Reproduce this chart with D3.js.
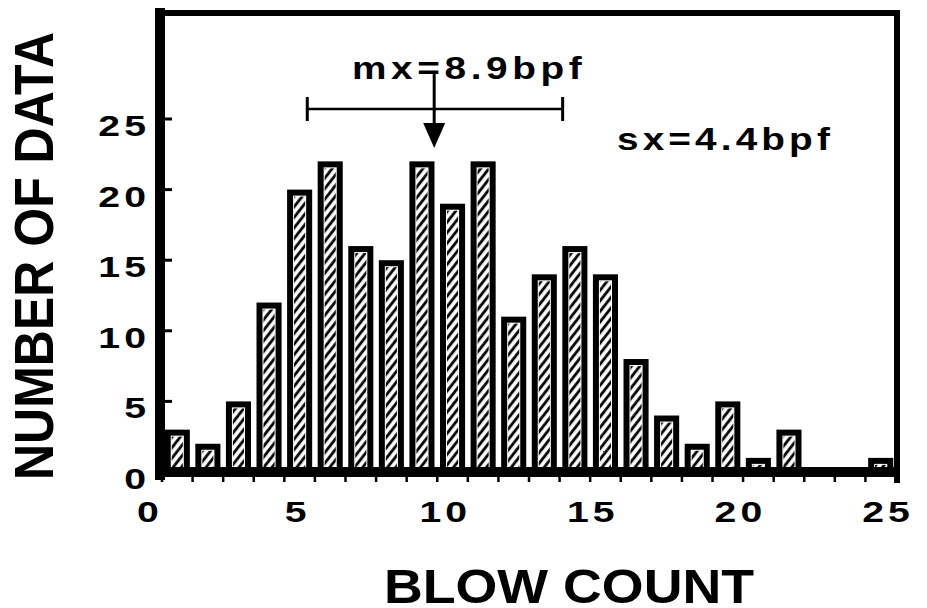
<!DOCTYPE html>
<html>
<head>
<meta charset="utf-8">
<script src="https://cdn.jsdelivr.net/npm/d3@7"></script>
<style>
  html, body { margin: 0; padding: 0; background: #fff; }
  svg { display: block; }
  text { font-family: "Liberation Sans", Arial, Helvetica, sans-serif; font-weight: bold; fill: #000; }
</style>
</head>
<body>
<svg id="chart" width="927" height="608"></svg>
<script>
// ---- data ----
const bins = ["1","2","3","4","5","6","7","8","9","10","11","12","13","14","15","16","17","18","19","20","21","22","23","24"];
const counts = [3, 2, 5, 12, 20, 22, 16, 15, 22, 19, 22, 11, 14, 16, 14, 8, 4, 2, 5, 1, 3, 0, 0, 1];
const xTickLabels = [0, 5, 10, 15, 20, 25];
const yTickLabels = [0, 5, 10, 15, 20, 25];
const yTickMarks = [5, 10, 15, 20, 25];
const binEdges = [0,1,2,3,4,5,6,7,8,9,10,11,12,13,14,15,16,17,18,19,20,21,22,23,24];
const meanValue = 8.9;
const spreadRange = [4.75, 13.1];
const meanLabel = "mx=8.9bpf";
const sdLabel = "sx=4.4bpf";
const xTitle = "BLOW COUNT";
const yTitle = "NUMBER OF DATA";

// ---- layout ----
const svg = d3.select("#chart");
const plotLeft = 162, plotRight = 896, baseY = 472, topY = 119;

const x = d3.scaleBand().domain(bins).range([plotLeft, plotRight]).paddingInner(0.18).paddingOuter(0.09);
const xe = d3.scaleLinear().domain([0, 24]).range([plotLeft, plotRight]);      // bin edges
const xl = d3.scaleLinear().domain([0, 25]).range([150, 888]);                 // tick label positions
const y = d3.scaleLinear().domain([0, 25]).range([baseY, topY]);

// hatch pattern
const defs = svg.append("defs");
const pat = defs.append("pattern")
  .attr("id", "hatch").attr("patternUnits", "userSpaceOnUse")
  .attr("width", 6.5).attr("height", 6.5)
  .attr("patternTransform", "rotate(38)");
pat.append("rect").attr("width", 6.5).attr("height", 6.5).attr("fill", "#fff");
pat.append("line").attr("x1", 1.6).attr("y1", 0).attr("x2", 1.6).attr("y2", 6.5)
  .attr("stroke", "#000").attr("stroke-width", 2.8);

// bars
const data = bins.map((b, i) => ({ bin: b, v: counts[i] })).filter(d => d.v > 0);
const bw = x.bandwidth();
const bar = svg.append("g").selectAll("g").data(data).join("g");
bar.append("rect")
  .attr("x", d => x(d.bin)).attr("y", d => y(d.v))
  .attr("width", bw).attr("height", d => y(0) - y(d.v))
  .attr("fill", "#000");
bar.append("rect")
  .attr("x", d => x(d.bin) + 6).attr("y", d => y(d.v) + 6)
  .attr("width", bw - 12).attr("height", d => Math.max(0, y(0) - y(d.v) - 6))
  .attr("fill", "#fff");
bar.append("rect")
  .attr("x", d => x(d.bin) + 7).attr("y", d => y(d.v) + 7)
  .attr("width", bw - 14).attr("height", d => Math.max(0, y(0) - y(d.v) - 7))
  .attr("fill", "url(#hatch)");

// frame
const frame = svg.append("g").attr("stroke", "#000").attr("fill", "none");
frame.append("line").attr("x1", 155).attr("x2", 900).attr("y1", 13).attr("y2", 13).attr("stroke-width", 6);
frame.append("line").attr("x1", 897).attr("x2", 897).attr("y1", 11).attr("y2", 483).attr("stroke-width", 6);
frame.append("line").attr("x1", 155).attr("x2", 900).attr("y1", baseY).attr("y2", baseY).attr("stroke-width", 10);
frame.append("line").attr("x1", 160).attr("x2", 160).attr("y1", 8).attr("y2", 480).attr("stroke-width", 10);

// y tick marks (inside)
frame.selectAll(".yt").data(yTickMarks).join("line")
  .attr("x1", 164).attr("x2", 172).attr("y1", d => y(d)).attr("y2", d => y(d)).attr("stroke-width", 3);
// x tick marks (below, at bin edges)
frame.selectAll(".xt").data(binEdges).join("line")
  .attr("x1", d => xe(d)).attr("x2", d => xe(d)).attr("y1", 476).attr("y2", 482).attr("stroke-width", 2.5);

// tick labels
svg.append("g").selectAll("text").data(xTickLabels).join("text")
  .attr("transform", d => `translate(${xl(d)},522) scale(1.35,1)`)
  .attr("text-anchor", "middle").attr("font-size", 29).attr("letter-spacing", 3)
  .text(d => d);
svg.append("g").selectAll("text").data(yTickLabels).join("text")
  .attr("transform", d => `translate(150,${y(d) + 17}) scale(1.35,1)`)
  .attr("text-anchor", "end").attr("font-size", 29).attr("letter-spacing", 3)
  .text(d => d);

// axis titles
svg.append("text")
  .attr("transform", "translate(569,603) scale(1.12,1)")
  .attr("text-anchor", "middle").attr("font-size", 48)
  .text(xTitle);
svg.append("text")
  .attr("transform", "translate(53,256) rotate(-90) scale(1,1.12)")
  .attr("text-anchor", "middle").attr("font-size", 50)
  .text(yTitle);

// annotations
svg.append("text")
  .attr("transform", "translate(352,79) scale(1.25,1)")
  .attr("font-size", 31).attr("letter-spacing", 3.7)
  .text(meanLabel);
svg.append("text")
  .attr("transform", "translate(617,150) scale(1.25,1)")
  .attr("font-size", 31).attr("letter-spacing", 3.3)
  .text(sdLabel);

const ann = svg.append("g").attr("stroke", "#000").attr("fill", "none");
ann.append("line").attr("x1", xe(spreadRange[0])).attr("x2", xe(spreadRange[1]))
  .attr("y1", 109).attr("y2", 109).attr("stroke-width", 2.5);
spreadRange.forEach(v => {
  ann.append("line").attr("x1", xe(v)).attr("x2", xe(v)).attr("y1", 97).attr("y2", 121).attr("stroke-width", 3);
});
const mxp = xe(meanValue);
ann.append("line").attr("x1", mxp).attr("x2", mxp).attr("y1", 72).attr("y2", 126).attr("stroke-width", 3);
svg.append("path")
  .attr("d", d3.line()([[mxp - 11, 123], [mxp + 11, 123], [mxp, 148]]) + "Z")
  .attr("fill", "#000");
</script>
</body>
</html>
